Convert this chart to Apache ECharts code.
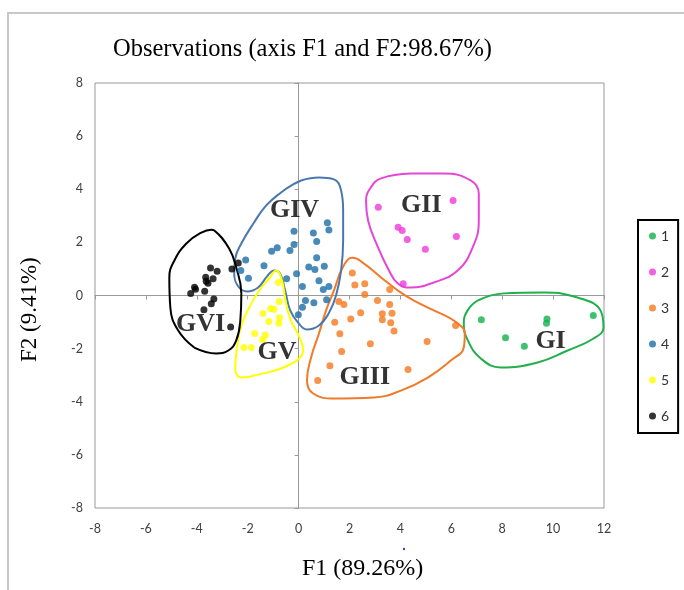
<!DOCTYPE html>
<html>
<head>
<meta charset="utf-8">
<script src="https://cdn.jsdelivr.net/npm/echarts@6/dist/echarts.min.js"></script>
<style>html,body{margin:0;padding:0;background:#fff}#c{width:684px;height:590px}</style>
</head>
<body>
<div id="c"></div>
<script>
// ---- data ----
const seriesNames = ['1', '2', '3', '4', '5', '6'];
const xTicks = [-8, -6, -4, -2, 0, 2, 4, 6, 8, 10, 12];
const yTicks = [-8, -6, -4, -2, 0, 2, 4, 6, 8];

const g1 = [[7.18,-0.91],[8.13,-1.59],[8.87,-1.91],[9.76,-0.88],[9.74,-1.04],[11.58,-0.75]];
const g2 = [[3.13,3.32],[6.07,3.58],[3.91,2.57],[4.07,2.45],[4.27,2.11],[6.20,2.22],[4.98,1.74],[4.11,0.44]];
const g3 = [[2.11,0.85],[2.21,0.40],[2.60,0.44],[2.60,0.04],[3.58,0.23],[1.58,-0.23],[1.78,-0.34],
  [3.10,-0.19],[3.58,-0.34],[2.44,-0.65],[3.29,-0.69],[3.67,-0.67],[2.05,-0.88],[3.29,-0.91],
  [1.42,-1.01],[3.62,-1.03],[3.75,-1.34],[6.17,-1.13],[1.62,-1.44],[2.82,-1.82],[5.05,-1.73],
  [1.69,-2.11],[1.23,-2.64],[4.30,-2.79],[0.75,-3.20]];
const g4 = [[1.13,2.74],[1.19,2.47],[-0.18,2.42],[0.58,2.35],[0.71,2.03],[-0.18,1.92],[-0.84,1.80],
  [-1.06,1.67],[-0.34,1.69],[0.71,1.42],[-2.08,1.34],[-1.36,1.12],[1.01,1.10],[0.40,1.07],
  [0.64,0.98],[-2.27,0.94],[-1.97,0.65],[-0.47,0.63],[-0.08,0.82],[0.80,0.56],[0.15,0.34],
  [1.19,0.34],[0.97,0.23],[0.27,-0.19],[0.60,-0.27],[1.10,-0.16],[0.15,-0.44],[-0.01,-0.72]];
const g5 = [[-0.80,0.49],[-0.76,-0.23],[-1.10,-0.49],[-0.97,-0.52],[-1.40,-0.68],[-0.75,-0.84],
  [-0.78,-1.04],[-1.17,-0.98],[-1.73,-1.43],[-1.31,-1.49],[-1.41,-1.66],[-2.15,-1.96],[-1.86,-1.96]];
const g6 = [[-3.46,1.04],[-3.20,0.91],[-3.65,0.69],[-3.36,0.63],[-3.63,0.54],[-3.56,0.46],[-4.09,0.31],
  [-4.05,0.24],[-4.24,0.08],[-3.69,0.16],[-3.33,-0.13],[-3.43,-0.31],[-3.72,-0.54],[-2.67,-1.19],
  [-2.37,1.22],[-2.62,1.00]];

// cluster outlines (data units)
const hull1 = [[7.03,-0.19],[8.06,0.08],[9.63,0.11],[11.08,-0.11],[11.86,-0.56],[11.98,-1.20],[11.59,-1.62],
  [10.57,-2.07],[9.39,-2.52],[7.94,-2.71],[7.16,-2.37],[6.65,-1.69],[6.49,-1.05],[6.64,-0.56]];
const hull2 = [[4.41,4.59],[5.71,4.59],[6.76,4.33],[7.08,3.84],[7.08,2.82],[6.84,1.81],[6.25,0.94],
  [5.31,0.49],[4.41,0.30],[3.90,0.45],[3.51,1.02],[3.12,1.81],[2.73,2.82],[2.65,3.58],[2.84,4.07],[3.24,4.41]];
const hull3 = [[5.59,-0.68],[6.25,-1.05],[6.53,-1.43],[6.49,-1.96],[5.98,-2.45],[5.08,-3.09],[4.02,-3.58],
  [2.96,-3.84],[1.39,-3.88],[0.57,-3.69],[0.33,-3.20],[0.49,-2.33],[0.80,-1.43],[1.08,-0.56],[1.39,0.19],
  [1.67,0.94],[1.94,1.36],[2.13,1.42],[2.57,1.20],[3.24,0.68],[3.90,0.19],[4.53,-0.19]];
const hull4 = [[0.10,4.33],[0.80,4.44],[1.39,4.37],[1.67,3.95],[1.75,3.20],[1.75,2.07],[1.67,0.94],[1.47,0.00],
  [1.20,-0.64],[0.80,-1.13],[0.33,-1.28],[-0.02,-1.02],[-0.33,-0.56],[-0.53,0.19],[-0.73,0.83],[-0.96,0.94],
  [-1.24,0.72],[-1.59,0.30],[-2.02,0.15],[-2.37,0.34],[-2.53,0.83],[-2.49,1.39],[-2.25,1.96],[-1.75,2.75],
  [-1.27,3.39],[-0.69,3.88],[-0.22,4.18]];
const hull5 = [[-0.06,-2.45],[-0.69,-2.75],[-1.55,-2.97],[-2.25,-3.09],[-2.49,-2.75],[-2.41,-1.88],[-2.25,-1.13],
  [-1.94,-0.45],[-1.55,0.19],[-1.16,0.64],[-0.88,0.94],[-0.65,0.56],[-0.53,-0.11],[-0.33,-0.87],[0.06,-1.62],[0.18,-2.07]];
const hull6 = [[-4.10,-1.96],[-4.73,-1.32],[-5.04,-0.45],[-5.08,0.68],[-4.88,1.32],[-4.41,1.96],[-3.82,2.37],
  [-3.43,2.48],[-3.31,2.45],[-2.73,1.77],[-2.45,1.05],[-2.25,0.08],[-2.29,-0.94],[-2.45,-1.69],[-2.76,-2.07],[-3.24,-2.18]];

const groupNames = ['GI', 'GII', 'GIII', 'GIV', 'GV', 'GVI'];
const groupLabelX = [9.90, 4.82, 2.60, -0.16, -0.85, -3.85];
const groupLabelY = [-1.71, 3.39, -3.08, 3.20, -2.13, -1.07];

// ---- styling ----
const groups = [g1, g2, g3, g4, g5, g6];
const hulls = [hull1, hull2, hull3, hull4, hull5, hull6];
const dotColors = ['#12b04a', '#ee3ad8', '#f6781f', '#1a6ea6', '#ffff00', '#000000'];
const hullColors = ['#1fb04c', '#e645d8', '#f07a2a', '#4a78ae', '#ffff00', '#000000'];

const series = [];
hulls.forEach((h, i) => {
  series.push({
    type: 'line', name: 'outline' + (i + 1), data: h.concat([h[0]]),
    smooth: 0.45, symbol: 'none', silent: true, z: 1,
    lineStyle: { color: hullColors[i], width: 2 }
  });
});
groups.forEach((g, i) => {
  series.push({
    type: 'scatter', name: seriesNames[i], data: g, symbolSize: 7, z: 3,
    itemStyle: { color: dotColors[i] }
  });
});
series.push({
  type: 'scatter', name: 'labels', symbolSize: 0, z: 4, silent: true,
  data: groupNames.map((n, i) => ({ name: n, value: [groupLabelX[i], groupLabelY[i]] })),
  label: {
    show: true, position: 'inside', formatter: p => p.name,
    fontFamily: 'Liberation Serif', fontWeight: 'bold', fontSize: 26, color: '#000'
  }
});

const chart = echarts.init(document.getElementById('c'), null, { renderer: 'canvas' });
chart.setOption({
  animation: false,
  backgroundColor: '#fff',
  title: {
    text: 'Observations (axis F1 and F2:98.67%)', left: 113, top: 37, padding: 0,
    textStyle: { fontFamily: 'Liberation Serif', fontSize: 24.5, fontWeight: 'normal', color: '#000' }
  },
  legend: {
    data: seriesNames, orient: 'vertical', left: 638, top: 220,
    padding: [9, 9, 10, 11], itemWidth: 7, itemHeight: 7, itemGap: 22, icon: 'circle',
    borderColor: '#000', borderWidth: 2,
    textStyle: { fontFamily: 'Lato', fontSize: 14, color: '#333', lineHeight: 14 }
  },
  grid: { left: 95, right: 80, top: 83, bottom: 82, show: true, borderColor: '#999', borderWidth: 1 },
  xAxis: [
    { type: 'value', min: xTicks[0], max: xTicks[xTicks.length - 1], interval: 2, position: 'bottom',
      axisLine: { show: false, onZero: false }, axisTick: { show: false }, splitLine: { show: false },
      axisLabel: { margin: 14, fontFamily: 'Lato', fontSize: 12.5, color: '#404040' } },
    { type: 'value', min: xTicks[0], max: xTicks[xTicks.length - 1], interval: 2, position: 'bottom',
      axisLine: { show: true, onZero: true, lineStyle: { color: '#999', width: 1 } },
      axisTick: { show: true, length: 4, lineStyle: { color: '#999' } },
      axisLabel: { show: false }, splitLine: { show: false } }
  ],
  yAxis: [
    { type: 'value', min: yTicks[0], max: yTicks[yTicks.length - 1], interval: 2, position: 'left',
      axisLine: { show: false, onZero: false }, axisTick: { show: false }, splitLine: { show: false },
      axisLabel: { margin: 12, fontFamily: 'Lato', fontSize: 12.5, color: '#404040' } },
    { type: 'value', min: yTicks[0], max: yTicks[yTicks.length - 1], interval: 2, position: 'left',
      axisLine: { show: true, onZero: true, lineStyle: { color: '#999', width: 1 } },
      axisTick: { show: true, length: 4, lineStyle: { color: '#999' } },
      axisLabel: { show: false }, splitLine: { show: false } }
  ],
  graphic: [
    { type: 'polyline', shape: { points: [[8, 590], [8, 13], [684, 13]] },
      style: { stroke: '#c8c8c8', lineWidth: 2, fill: null }, silent: true },
    { type: 'text', left: 302, top: 557,
      style: { text: 'F1 (89.26%)', font: '24px "Liberation Serif"', fill: '#000' } },
    { type: 'text', x: 18, y: 362, rotation: Math.PI / 2,
      style: { text: 'F2 (9.41%)', font: '23px "Liberation Serif"', fill: '#000' } },
    { type: 'circle', shape: { cx: 404, cy: 549, r: 1.2 }, style: { fill: '#3344dd' }, silent: true }
  ],
  series: series
});
</script>
</body>
</html>
